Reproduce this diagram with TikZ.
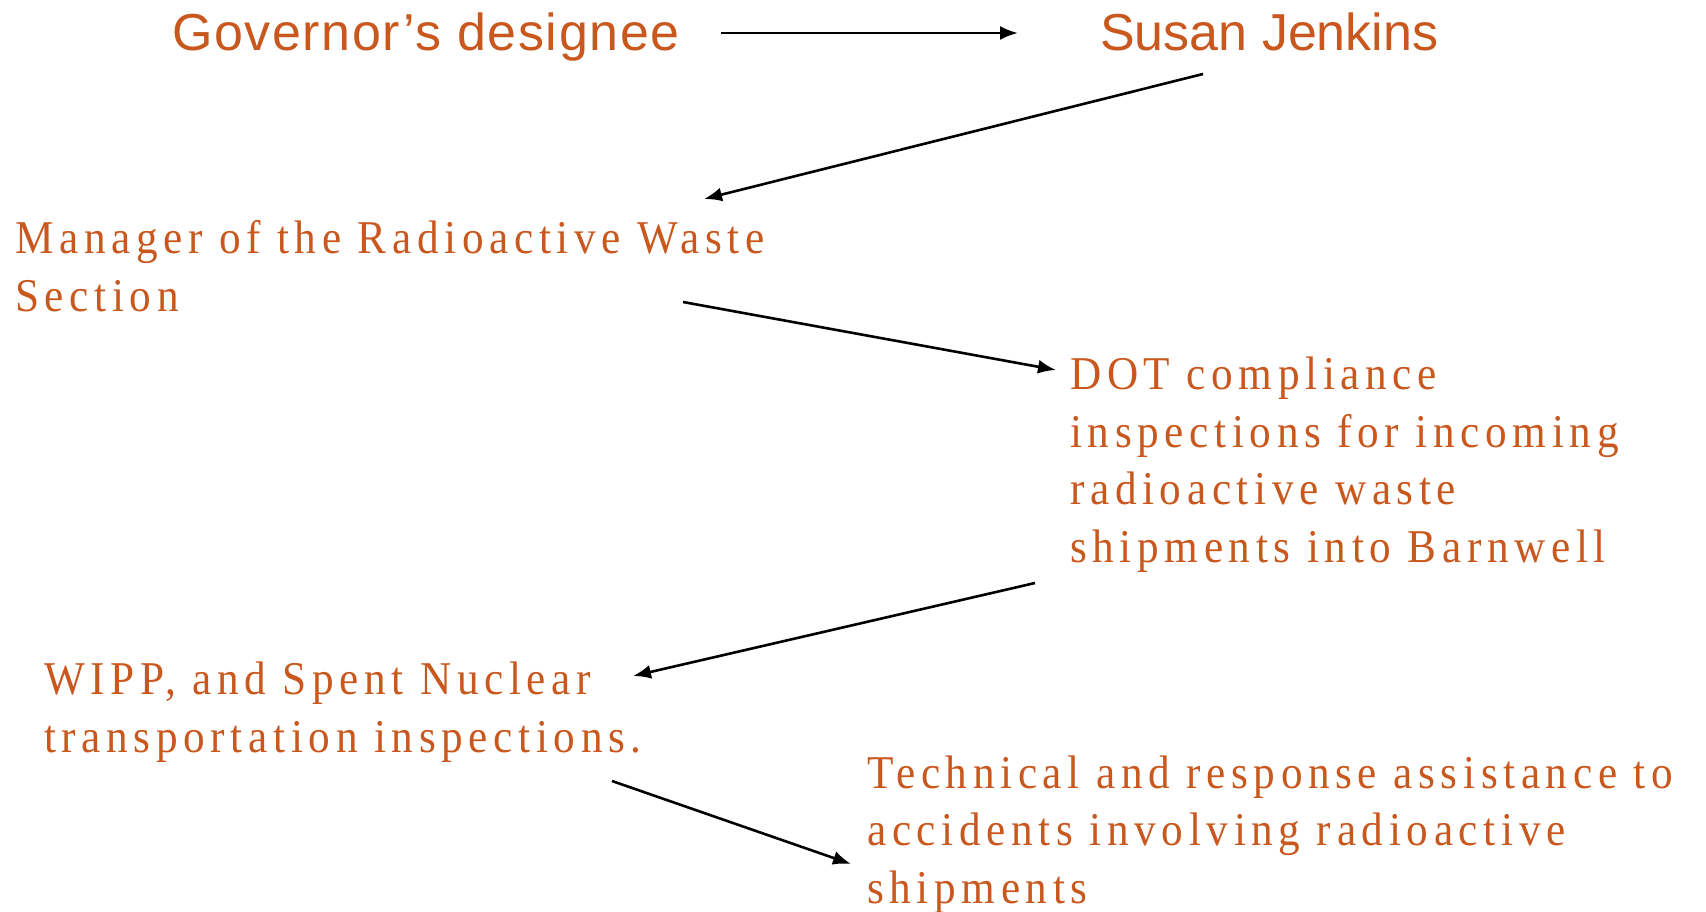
\documentclass[tikz,border=0pt]{standalone}
\usepackage{fontspec}
\usetikzlibrary{arrows.meta}
\newfontfamily\headfont[LetterSpace=3]{Liberation Sans}
\newfontfamily\namefont[LetterSpace=0]{Liberation Sans}
\newfontfamily\bodyfont[FakeStretch=0.92,LetterSpace=12]{Liberation Serif}
\definecolor{rust}{RGB}{200,88,30}
\tikzset{
  head/.style={text=rust, anchor=base west, inner sep=0pt, font=\headfont\fontsize{52}{60}\selectfont},
  body/.style={text=rust, anchor=base west, inner sep=0pt, align=left, font=\bodyfont\fontsize{47}{57.5}\selectfont},
  arr/.style={-{Latex[length=18pt,width=14pt]}, line width=2.6pt}
}
\begin{document}
\begin{tikzpicture}[x=1pt,y=-1pt]
            \useasboundingbox (0,0) rectangle (1706,912);
            %testi (base = ultima riga)
            \node[head] (gov) at (172,51) {Governor’s designee};
            \node[head, font=\namefont\fontsize{52}{60}\selectfont] (susan) at (1100,51) {Susan Jenkins};
            \node[body] (manager) at (15,311) {Manager of the Radioactive Waste\\Section};
            \node[body] (dot) at (1070,562) {DOT compliance\\inspections for incoming\\radioactive waste\\shipments into Barnwell};
            \node[body] (wipp) at (44,752) {WIPP, and Spent Nuclear\\transportation inspections.};
            \node[body] (tech) at (867,903) {Technical and response assistance to\\accidents involving radioactive\\shipments};
            %frecce
            \coordinate (a1) at (721,33);   \coordinate (b1) at (1018,33);
            \coordinate (a2) at (1203,74);  \coordinate (b2) at (704,199);
            \coordinate (a3) at (683,302);  \coordinate (b3) at (1056,370);
            \coordinate (a4) at (1035,583); \coordinate (b4) at (633,676);
            \coordinate (a5) at (612,781);  \coordinate (b5) at (851,864);
            \draw[arr] (a1) -- (b1);
            \draw[arr] (a2) -- (b2);
            \draw[arr] (a3) -- (b3);
            \draw[arr] (a4) -- (b4);
            \draw[arr] (a5) -- (b5);
\end{tikzpicture}
\end{document}
